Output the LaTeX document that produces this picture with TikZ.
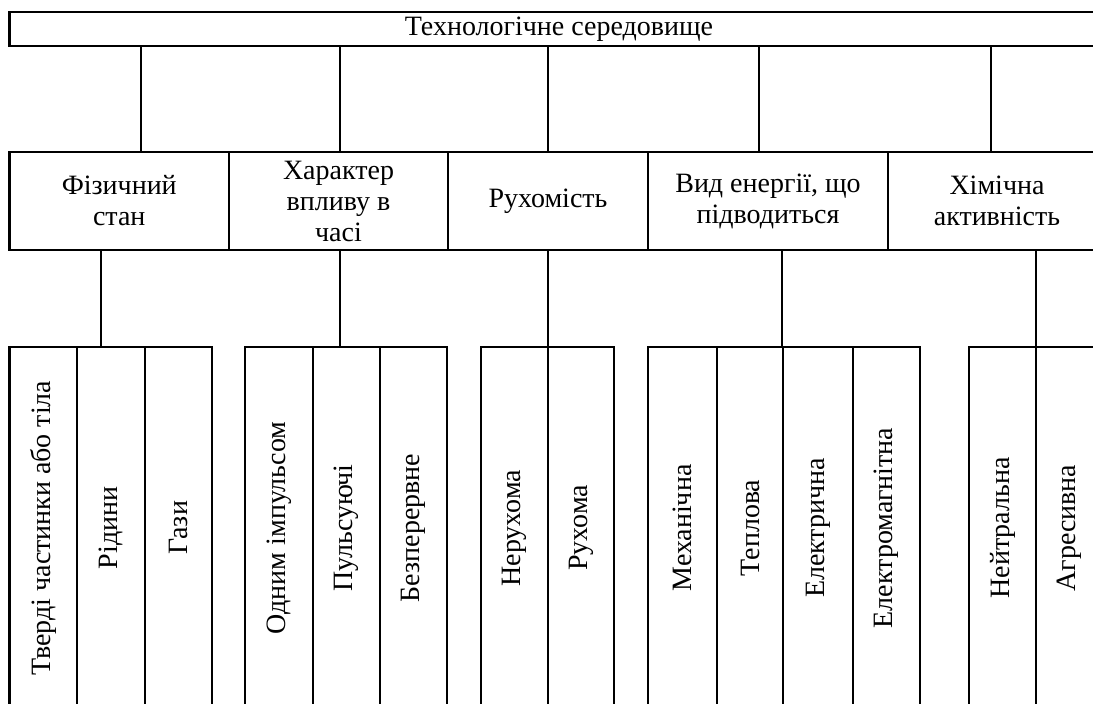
\documentclass[tikz,border=0pt]{standalone}
\usepackage{fontspec}
\setmainfont{Liberation Serif}
\begin{document}
\begin{tikzpicture}[x=0.5pt,y=-0.5pt,
  every node/.style={font=\fontsize{14}{15.5}\selectfont},
  box/.style={draw, line width=1.1pt, inner sep=0pt, align=center},
  lvl/.style={box, minimum height=49pt},
  leaf/.style={box, rotate=90, minimum width=181pt},
  link/.style={line width=1.1pt}]
\useasboundingbox (0,0) rectangle (1093,704);
\clip (0,0) rectangle (1093,704);
% top box
\node[box, minimum width=549.5pt, minimum height=17pt] (top) at (559,29) {Технологічне середовище};
% level 2
\node[lvl, minimum width=109.75pt] (b1) at (119.25,201) {Фізичний\\стан};
\node[lvl, minimum width=109.5pt] (b2) at (338.5,201) {Характер\\впливу в\\часі};
\node[lvl, minimum width=100pt] (b3) at (548,201) {Рухомість};
\node[lvl, minimum width=120pt] (b4) at (768,201) {Вид енергії, що\\підводиться};
\node[lvl, minimum width=109pt] (b5) at (997,201) {Хімічна\\активність};
% leaves
\node[leaf, minimum height=33.75pt] (l11) at (43.25,528) {Тверді частинки або тіла};
\node[leaf, minimum height=34pt] (l12) at (111,528) {Рідини};
\node[leaf, minimum height=33.5pt] (l13) at (178.5,528) {Гази};
\node[leaf, minimum height=34pt] (l21) at (279,528) {Одним імпульсом};
\node[leaf, minimum height=33.5pt] (l22) at (346.5,528) {Пульсуючі};
\node[leaf, minimum height=33.5pt] (l23) at (413.5,528) {Безперервне};
\node[leaf, minimum height=33.5pt] (l31) at (514.5,528) {Нерухома};
\node[leaf, minimum height=33pt] (l32) at (581,528) {Рухома};
\node[leaf, minimum height=34.5pt] (l41) at (682.5,528) {Механічна};
\node[leaf, minimum height=33pt] (l42) at (750,528) {Теплова};
\node[leaf, minimum height=35pt] (l43) at (818,528) {Електрична};
\node[leaf, minimum height=33.5pt] (l44) at (886.5,528) {Електромагнітна};
\node[leaf, minimum height=33.5pt] (l51) at (1002.5,528) {Нейтральна};
\node[leaf, minimum height=33.5pt] (l52) at (1069.5,528) {Агресивна};
% connector positions
\coordinate (t1) at (141,0);
\coordinate (t2) at (340,0);
\coordinate (t3) at (548,0);
\coordinate (t4) at (759,0);
\coordinate (t5) at (991,0);
\coordinate (d1) at (101,0);
\coordinate (d2) at (340,0);
\coordinate (d3) at (548,0);
\coordinate (d4) at (782,0);
\coordinate (d5) at (1036,0);
% top to level 2
\draw[link] (top.south -| t1) -- (b1.north -| t1);
\draw[link] (top.south -| t2) -- (b2.north -| t2);
\draw[link] (top.south -| t3) -- (b3.north -| t3);
\draw[link] (top.south -| t4) -- (b4.north -| t4);
\draw[link] (top.south -| t5) -- (b5.north -| t5);
% level 2 to leaves
\draw[link] (b1.south -| d1) -- (d1 |- l12.east);
\draw[link] (b2.south -| d2) -- (d2 |- l22.east);
\draw[link] (b3.south -| d3) -- (d3 |- l32.east);
\draw[link] (b4.south -| d4) -- (d4 |- l43.east);
\draw[link] (b5.south -| d5) -- (d5 |- l52.east);
\end{tikzpicture}
\end{document}
